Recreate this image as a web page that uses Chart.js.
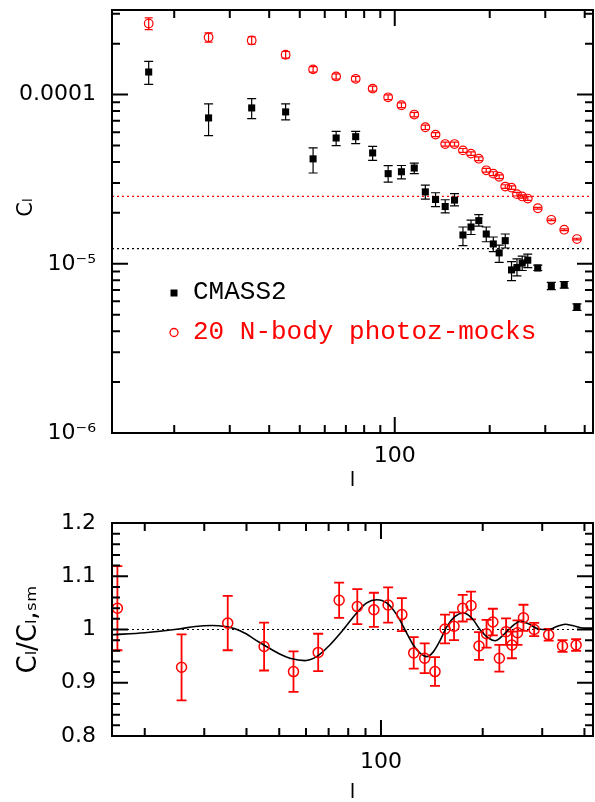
<!DOCTYPE html>
<html><head><meta charset="utf-8">
<script src="https://cdn.jsdelivr.net/npm/chart.js@4/dist/chart.umd.min.js"></script>
<style>
html,body{margin:0;padding:0;background:#fff;}
#wrap{position:relative;width:595px;height:802px;overflow:hidden;}
canvas{position:absolute;left:0;}
#c1{top:0}
#c2{top:490px}
</style></head><body>
<div id="wrap"><canvas id="c1" width="595" height="490"></canvas><canvas id="c2" width="595" height="312"></canvas></div>
<script>
// ---------------- data ----------------
const ells = [16.6, 25.7, 35.2, 45.1, 55.1, 65.2, 75.2, 85.1, 95.3, 105, 115.3, 125, 134.7, 144.5, 154.7,
              164.5, 174.5, 184.7, 195, 205.3, 214.3, 224, 234.5, 244, 253.5, 264, 284, 313.5, 344.5, 378];
const cmass2 = [1.36e-4, 7.28e-5, 8.34e-5, 7.9e-5, 4.17e-5, 5.54e-5, 5.64e-5, 4.52e-5, 3.41e-5, 3.5e-5,
                3.68e-5, 2.66e-5, 2.40e-5, 2.18e-5, 2.38e-5, 1.48e-5, 1.65e-5, 1.80e-5, 1.5e-5, 1.31e-5,
                1.16e-5, 1.37e-5, 9.2e-6, 9.5e-6, 1.01e-5, 1.05e-5, 9.44e-6, 7.41e-6, 7.52e-6, 5.55e-6];
const cmass2Hi = [1.57e-4, 8.81e-5, 9.47e-5, 8.81e-5, 4.84e-5, 6.07e-5, 6.07e-5, 4.94e-5, 3.8e-5, 3.81e-5,
                  3.94e-5, 2.92e-5, 2.63e-5, 2.39e-5, 2.6e-5, 1.65e-5, 1.81e-5, 1.95e-5, 1.65e-5, 1.44e-5,
                  1.29e-5, 1.5e-5, 1.03e-5, 1.07e-5, 1.11e-5, 1.14e-5, 9.83e-6, 7.76e-6, 7.86e-6, 5.79e-6];
const cmass2Lo = [1.15e-4, 5.72e-5, 7.21e-5, 7.08e-5, 3.44e-5, 4.99e-5, 5.13e-5, 4.08e-5, 3.04e-5, 3.18e-5,
                  3.41e-5, 2.41e-5, 2.18e-5, 2.0e-5, 2.2e-5, 1.28e-5, 1.49e-5, 1.67e-5, 1.35e-5, 1.18e-5,
                  1.02e-5, 1.24e-5, 7.96e-6, 8.49e-6, 9.13e-6, 9.5e-6, 9.13e-6, 7.03e-6, 7.19e-6, 5.3e-6];
const mocks = [2.63e-4, 2.18e-4, 2.09e-4, 1.72e-4, 1.41e-4, 1.28e-4, 1.24e-4, 1.085e-4, 9.64e-5, 8.65e-5,
               7.62e-5, 6.41e-5, 5.8e-5, 5.1e-5, 5.1e-5, 4.68e-5, 4.48e-5, 4.18e-5, 3.57e-5, 3.41e-5,
               3.27e-5, 2.86e-5, 2.82e-5, 2.58e-5, 2.5e-5, 2.43e-5, 2.13e-5, 1.82e-5, 1.59e-5, 1.4e-5];
// relative error of the mock mean (same in both panels)
const relErr = [0.079, 0.062, 0.051, 0.045, 0.038, 0.035, 0.033, 0.033, 0.032, 0.033,
                0.031, 0.0295, 0.028, 0.027, 0.027, 0.026, 0.025, 0.026, 0.026, 0.026,
                0.025, 0.025, 0.025, 0.025, 0.023, 0.0245, 0.0125, 0.011, 0.011, 0.011];
const ratio = [1.040, 0.929, 1.012, 0.968, 0.921, 0.957, 1.055, 1.043, 1.037, 1.046,
               1.028, 0.956, 0.946, 0.921, 1.001, 1.006, 1.040, 1.045, 0.969, 0.992,
               1.014, 0.946, 0.996, 0.971, 0.994, 1.022, 1.000, 0.990, 0.969, 0.971];
const smoothL = [16, 20, 25.2, 28.2, 31.6, 34.6, 37, 39.6, 43.4, 47.6, 50.9, 53.8, 59.6, 64.5, 70.6, 77.3,
                 84.7, 90.7, 97.1, 104, 111.3, 117.8, 124.6, 130.5, 136.6, 142.8, 149.5, 156.5, 165.6,
                 175.3, 185.6, 196.5, 207.8, 217.6, 227.8, 243.8, 258, 273, 292.3, 312.9, 331.2, 350.7,
                 371, 397.2, 424];
const smoothRatio = [0.990, 0.994, 1.001, 1.0057, 1.0075, 1.0057, 1.0013, 0.993, 0.977, 0.962, 0.952, 0.946,
                     0.9416, 0.949, 0.971, 0.9994, 1.031, 1.050, 1.056, 1.050, 1.028, 0.9994, 0.971, 0.9556,
                     0.949, 0.958, 0.979, 1.005, 1.0245, 1.031, 1.0215, 0.9994, 0.984, 0.979, 0.987, 1.0056,
                     1.015, 1.0107, 1.0008, 0.9994, 1.0056, 1.010, 1.007, 1.0026, 1.0026];
const noiseCmass2 = 1.23e-5;
const noiseMocks = 2.5e-5;
const ratioRef = 1.0;

// tick values / labels
const topYTicks = [1e-6, 1e-5, 1e-4];
const topYTickLabels = ['10\u207B\u2076', '10\u207B\u2075', '0.0001'];
const topYMinor = [2e-6,3e-6,4e-6,5e-6,6e-6,7e-6,8e-6,9e-6,2e-5,3e-5,4e-5,5e-5,6e-5,7e-5,8e-5,9e-5,2e-4,3e-4];
const xTicks = [100];
const xTickLabels = ['100'];
const xMinor = [20,30,40,50,60,70,80,90,200,300,400];
const botYTicks = [0.8, 0.9, 1.0, 1.1, 1.2];
const botYTickLabels = ['0.8', '0.9', '1', '1.1', '1.2'];
const botYMinor = [0.82,0.84,0.86,0.88,0.92,0.94,0.96,0.98,1.02,1.04,1.06,1.08,1.12,1.14,1.16,1.18];

const RED = '#ff0000';
const TICKFONT = {family: 'DejaVu Sans', size: 22};

// ---------------- plugins ----------------
const framePlugin = {
  id: 'frame',
  afterDraw(chart, args, o) {
    const {ctx, chartArea: a} = chart;
    const xs = chart.scales.x, ys = chart.scales.y;
    ctx.save();
    ctx.strokeStyle = '#000';
    ctx.lineWidth = 2;
    ctx.beginPath();
    const xt = (vals, len) => vals.forEach(v => {
      const p = xs.getPixelForValue(v);
      if (p < a.left - 0.5 || p > a.right + 0.5) return;
      ctx.moveTo(p, a.bottom); ctx.lineTo(p, a.bottom - len);
      ctx.moveTo(p, a.top); ctx.lineTo(p, a.top + len);
    });
    const yt = (vals, len) => vals.forEach(v => {
      const p = ys.getPixelForValue(v);
      if (p < a.top - 0.5 || p > a.bottom + 0.5) return;
      ctx.moveTo(a.left, p); ctx.lineTo(a.left + len, p);
      ctx.moveTo(a.right, p); ctx.lineTo(a.right - len, p);
    });
    xt(o.xMajor, 16); xt(o.xMinor, 8);
    yt(o.yMajor, 16); yt(o.yMinor, 8);
    ctx.stroke();
    ctx.strokeRect(a.left, a.top, a.right - a.left, a.bottom - a.top);
    ctx.restore();
  }
};

const hlinePlugin = {
  id: 'hlines',
  beforeDatasetsDraw(chart, args, o) {
    const {ctx, chartArea: a} = chart;
    const ys = chart.scales.y;
    ctx.save();
    (o.lines || []).forEach(l => {
      const p = ys.getPixelForValue(l.value);
      ctx.strokeStyle = l.color;
      ctx.lineWidth = 1.2;
      ctx.setLineDash([2, 3]);
      ctx.beginPath();
      ctx.moveTo(a.left, p); ctx.lineTo(a.right, p);
      ctx.stroke();
    });
    ctx.restore();
  }
};

const errPlugin = {
  id: 'errbars',
  beforeDatasetsDraw(chart, args, o) {
    const {ctx, chartArea: a} = chart;
    const xs = chart.scales.x, ys = chart.scales.y;
    ctx.save();
    ctx.beginPath(); ctx.rect(a.left, a.top, a.right - a.left, a.bottom - a.top); ctx.clip();
    (o.sets || []).forEach(s => {
      ctx.strokeStyle = s.color;
      ctx.lineWidth = s.width;
      ctx.beginPath();
      s.x.forEach((xv, i) => {
        const px = xs.getPixelForValue(xv);
        const y1 = ys.getPixelForValue(s.lo[i]);
        const y2 = ys.getPixelForValue(s.hi[i]);
        ctx.moveTo(px, y1); ctx.lineTo(px, y2);
        ctx.moveTo(px - s.cap, y1); ctx.lineTo(px + s.cap, y1);
        ctx.moveTo(px - s.cap, y2); ctx.lineTo(px + s.cap, y2);
      });
      ctx.stroke();
    });
    ctx.restore();
  }
};

const legendPlugin = {
  id: 'insideLegend',
  afterDraw(chart, args, o) {
    if (!o.items) return;
    const {ctx, chartArea: a} = chart;
    ctx.save();
    ctx.font = '26px "Liberation Mono", monospace';
    ctx.textBaseline = 'alphabetic';
    ctx.textAlign = 'left';
    o.items.forEach((it, k) => {
      const my = a.top + o.dy + k * o.gap;
      const mx = a.left + o.dx;
      if (it.style === 'rect') {
        ctx.fillStyle = it.color;
        ctx.fillRect(mx - 3.5, my - 3.5, 7, 7);
      } else {
        ctx.strokeStyle = it.color; ctx.lineWidth = 1.3;
        ctx.beginPath(); ctx.arc(mx, my, 4, 0, Math.PI * 2); ctx.stroke();
      }
      ctx.fillStyle = it.color;
      ctx.fillText(it.text, mx + 19, my + 6);
    });
    ctx.restore();
  }
};

function baseScales(xmin, xmax, xHeight, xPad, yScale) {
  return {
    x: {
      type: 'logarithmic', min: xmin, max: xmax,
      grid: {display: false, drawTicks: false}, border: {display: false},
      afterBuildTicks: s => { s.ticks = xTicks.map(v => ({value: v})); },
      ticks: {autoSkip: false, maxRotation: 0, minRotation: 0, padding: xPad, color: '#000', font: TICKFONT,
              callback: (v, i) => xTickLabels[i]},
      title: {display: true, text: 'l', color: '#000', font: {family: 'DejaVu Sans', size: 20}, padding: {top: 0, bottom: -3}},
      afterFit: s => { s.height = xHeight; s.paddingLeft = 0; s.paddingRight = 0; }
    },
    y: yScale
  };
}

// ---------------- top panel ----------------
new Chart(document.getElementById('c1'), {
  type: 'scatter',
  data: {
    datasets: [
      {label: 'CMASS2', data: ells.map((l, i) => ({x: l, y: cmass2[i]})), pointStyle: 'rect',
       pointRadius: 5, backgroundColor: '#000', borderColor: '#000', pointBorderWidth: 0, order: 1},
      {label: '20 N-body photoz-mocks', data: ells.map((l, i) => ({x: l, y: mocks[i]})), pointStyle: 'circle',
       pointRadius: 4.3, backgroundColor: 'rgba(0,0,0,0)', borderColor: RED, pointBorderWidth: 1.2, order: 2}
    ]
  },
  options: {
    responsive: false, animation: false, devicePixelRatio: 1,
    layout: {autoPadding: false, padding: {top: 10, right: 2, left: 0, bottom: 0}},
    plugins: {
      legend: {display: false}, tooltip: {enabled: false},
      frame: {xMajor: xTicks, xMinor: xMinor, yMajor: topYTicks, yMinor: topYMinor},
      hlines: {lines: [{value: noiseMocks, color: RED}, {value: noiseCmass2, color: '#000'}]},
      errbars: {sets: [
        {x: ells, lo: mocks.map((m, i) => m * (1 - relErr[i])), hi: mocks.map((m, i) => m * (1 + relErr[i])), color: RED, width: 1.2, cap: 4},
        {x: ells, lo: cmass2Lo, hi: cmass2Hi, color: '#000', width: 1.2, cap: 4.5}
      ]},
      insideLegend: {dx: 62, dy: 283, gap: 39.5, items: [
        {style: 'rect', color: '#000', text: 'CMASS2'},
        {style: 'circle', color: RED, text: '20 N-body photoz-mocks'}
      ]}
    },
    scales: baseScales(12.7, 425, 57, 10, {
      type: 'logarithmic', min: 1e-6, max: 3.162e-4,
      grid: {display: false, drawTicks: false}, border: {display: false},
      afterBuildTicks: s => { s.ticks = topYTicks.map(v => ({value: v})); },
      ticks: {autoSkip: false, padding: 16, color: '#000', font: TICKFONT, callback: (v, i) => topYTickLabels[i]},
      title: {display: true, text: '\u2002\u2002 C\u2097', color: '#000', font: {family: 'DejaVu Sans', size: 21}, padding: {top: 14, bottom: 0}},
      afterFit: s => { s.width = 112; s.paddingTop = 0; s.paddingBottom = 0; }
    })
  },
  plugins: [framePlugin, hlinePlugin, errPlugin, legendPlugin]
});

// ---------------- bottom panel ----------------
new Chart(document.getElementById('c2'), {
  type: 'scatter',
  data: {
    datasets: [
      {label: 'mocks / smooth', data: ells.map((l, i) => ({x: l, y: ratio[i]})), pointStyle: 'circle',
       pointRadius: 5, backgroundColor: 'rgba(0,0,0,0)', borderColor: RED, pointBorderWidth: 1.5, order: 1},
      {type: 'line', label: 'smooth model', data: smoothL.map((l, i) => ({x: l, y: smoothRatio[i]})),
       showLine: true, pointRadius: 0, borderColor: '#000', borderWidth: 1.6, cubicInterpolationMode: 'monotone',
       fill: false, order: 2}
    ]
  },
  options: {
    responsive: false, animation: false, devicePixelRatio: 1,
    layout: {autoPadding: false, padding: {top: 33, right: 2, left: 0, bottom: 0}},
    plugins: {
      legend: {display: false}, tooltip: {enabled: false},
      frame: {xMajor: xTicks, xMinor: xMinor, yMajor: botYTicks, yMinor: botYMinor},
      hlines: {lines: [{value: ratioRef, color: '#000'}]},
      errbars: {sets: [
        {x: ells, lo: ratio.map((r, i) => r - relErr[i]), hi: ratio.map((r, i) => r + relErr[i]), color: RED, width: 1.8, cap: 5}
      ]}
    },
    scales: baseScales(16, 424, 66, 13, {
      type: 'linear', min: 0.8, max: 1.2,
      grid: {display: false, drawTicks: false}, border: {display: false},
      afterBuildTicks: s => { s.ticks = botYTicks.map(v => ({value: v})); },
      ticks: {autoSkip: false, padding: 16, color: '#000', font: TICKFONT, callback: (v, i) => botYTickLabels[i]},
      title: {display: true, text: 'C\u2097/C\u2097,\u209B\u2098', color: '#000', font: {family: 'DejaVu Sans', size: 26}, padding: {top: 14, bottom: 0}},
      afterFit: s => { s.width = 112; s.paddingTop = 0; s.paddingBottom = 0; }
    })
  },
  plugins: [framePlugin, hlinePlugin, errPlugin]
});
</script>
</body></html>
